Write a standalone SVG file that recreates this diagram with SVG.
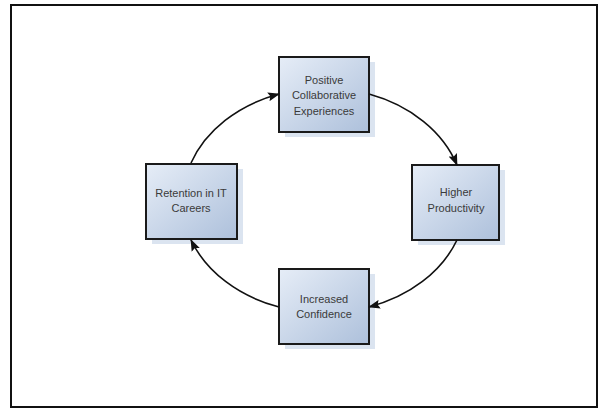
<svg xmlns="http://www.w3.org/2000/svg" width="598" height="408" viewBox="0 0 598 408">
  <style>
    .frame { fill: #ffffff; stroke: #111111; stroke-width: 2; }
    .shadow { fill: #dbe4f0; }
    .box { fill: url(#boxFill); stroke: #1a1a1a; stroke-width: 2; }
    .label { font-family: "Liberation Sans", Arial, sans-serif; font-size: 11px; fill: #3a3a3a; text-anchor: middle; }
    .link { fill: none; stroke: #111111; stroke-width: 1.6; marker-end: url(#arrow); }
  </style>
  <defs>
    <linearGradient id="boxFill" x1="0" y1="0" x2="1" y2="1">
      <stop offset="0" stop-color="#e6edf7"/>
      <stop offset="1" stop-color="#adc0db"/>
    </linearGradient>
    <marker id="arrow" markerWidth="12" markerHeight="10" refX="11" refY="5" orient="auto" markerUnits="userSpaceOnUse">
      <path d="M0,0.5 L12,5 L0,9.5 L2,5 Z" fill="#111111"/>
    </marker>
  </defs>

  <!-- page frame -->
  <rect class="frame" x="11" y="5" width="586" height="402"/>

  <g id="node-positive">
    <rect class="shadow" x="285" y="62" width="90" height="75"/>
    <rect class="box" x="279" y="57" width="90" height="75"/>
    <text class="label" x="324" y="84">Positive</text>
    <text class="label" x="324" y="99">Collaborative</text>
    <text class="label" x="324" y="115">Experiences</text>
  </g>

  <g id="node-productivity">
    <rect class="shadow" x="418" y="170" width="87" height="75"/>
    <rect class="box" x="412" y="165" width="87" height="75"/>
    <text class="label" x="456" y="196">Higher</text>
    <text class="label" x="456" y="212">Productivity</text>
  </g>

  <g id="node-confidence">
    <rect class="shadow" x="285" y="274" width="90" height="75"/>
    <rect class="box" x="279" y="269" width="90" height="75"/>
    <text class="label" x="324" y="303">Increased</text>
    <text class="label" x="324" y="318">Confidence</text>
  </g>

  <g id="node-retention">
    <rect class="shadow" x="152" y="169" width="91" height="75"/>
    <rect class="box" x="146" y="164" width="91" height="75"/>
    <text class="label" x="191" y="197">Retention in IT</text>
    <text class="label" x="191" y="212">Careers</text>
  </g>

  <!-- connectors: an elliptical cycle through the four boxes, drawn on top -->
  <g id="connectors">
    <path class="link" d="M191,163 A141,113 0 0,1 279,94"/>
    <path class="link" d="M369,94 A141,113 0 0,1 457,165"/>
    <path class="link" d="M457,240 A141,113 0 0,1 369,307"/>
    <path class="link" d="M279,307 A141,113 0 0,1 191,240"/>
  </g>
</svg>
